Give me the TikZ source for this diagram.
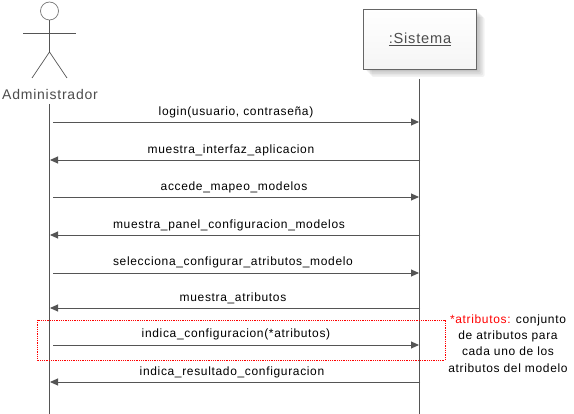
\documentclass[tikz,border=0pt]{standalone}
\usepackage{fontspec}
\setmainfont[LetterSpace=5.5]{Liberation Sans}
\usetikzlibrary{calc}
\usetikzlibrary{arrows.meta}
\usetikzlibrary{positioning}
\definecolor{lifegray}{RGB}{85,85,85}
\definecolor{notered}{RGB}{255,0,0}
\tikzset{
    lifeline/.style={draw=lifegray,line width=0.9pt},
    msgline/.style={lifegray,line width=0.9pt,-{Triangle[length=8pt,width=7pt]}},
    msglabel/.style={inner sep=0pt,anchor=base,font=\fontsize{12}{14}\selectfont,text=black},
    notelabel/.style={inner sep=0pt,align=center,font=\fontsize{12}{16.2}\selectfont},
    objbox/.style={draw=lifegray!90,line width=0.9pt,minimum width=113pt,minimum height=60pt,inner sep=0pt,
        top color=white,bottom color=black!4,font=\fontsize{14.6}{16}\selectfont,text=black!70},
}
\begin{document}
\begin{tikzpicture}[x=1pt,y=-1pt]%
    \useasboundingbox (0,0) rectangle (574,414);
    % caja del sistema, con sombra
    \foreach \s in {8,6.5,5,3.5,2} {
        \fill[black,opacity=0.05,rounded corners=2pt] (363.5+\s,9+\s) rectangle (476.5+\s,69+\s);
    }
    \node[objbox] (sistema) at (420,39) {\underline{:Sistema}};
    % actor
    \node[draw=lifegray!80,line width=0.7pt,circle,minimum size=18pt,inner sep=0pt] (cabeza) at (49.5,11) {};
    \coordinate (cadera) at (49.5,52);
    \coordinate (brazoA) at (23,33);
    \coordinate (brazoB) at (76,33);
    \coordinate (pieA) at (32,78);
    \coordinate (pieB) at (67,78);
    \draw[lifeline] (cabeza.south) -- (cadera);
    \draw[lifeline] (brazoA) -- (brazoB);
    \draw[lifegray,line width=0.7pt] (pieA) -- (cadera) -- (pieB);
    \node[font=\fontsize{14}{16}\selectfont,text=black!70,inner sep=0pt,anchor=base] (admin) at (50,100) {Administrador};
    % lineas de vida
    \coordinate (iniAdmin) at (49,104);
    \coordinate (finAdmin) at (49,414);
    \coordinate (iniSistema) at (419,79);
    \coordinate (finSistema) at (419,414);
    \draw[lifeline] (iniAdmin) -- (finAdmin);
    \draw[lifeline] (iniSistema) -- (finSistema);
    % mensajes hacia el sistema
    \foreach \y/\xt/\yt/\txt in {
        122/236/116/{login(usuario, contraseña)},
        197/234/191/{accede\_mapeo\_modelos},
        273/233/266/{selecciona\_configurar\_atributos\_modelo},
        345/236/338/{indica\_configuracion(*atributos)}} {
        \coordinate (desde) at (53,\y);
        \coordinate (hasta) at (419,\y);
        \draw[msgline] (desde) -- (hasta);
        \node[msglabel] (etiq\y) at (\xt,\yt) {\txt};
    }
    % mensajes de vuelta
    \foreach \y/\xt/\yt/\txt in {
        160/231/154/{muestra\_interfaz\_aplicacion},
        235/229/229/{muestra\_panel\_configuracion\_modelos},
        308/233/302/{muestra\_atributos},
        382/232/376/{indica\_resultado\_configuracion}} {
        \coordinate (desde) at (420,\y);
        \coordinate (hasta) at (50,\y);
        \draw[msgline] (desde) -- (hasta);
        \node[msglabel] (etiq\y) at (\xt,\yt) {\txt};
    }
    % nota
    \draw[notered,densely dotted,line width=0.8pt] (37,320) rectangle (445,360);
    \node[notelabel] (nota) at (508,343.5) {\textcolor{notered}{*atributos:} conjunto\\de atributos para\\cada uno de los\\atributos del modelo};
\end{tikzpicture}
\end{document}
